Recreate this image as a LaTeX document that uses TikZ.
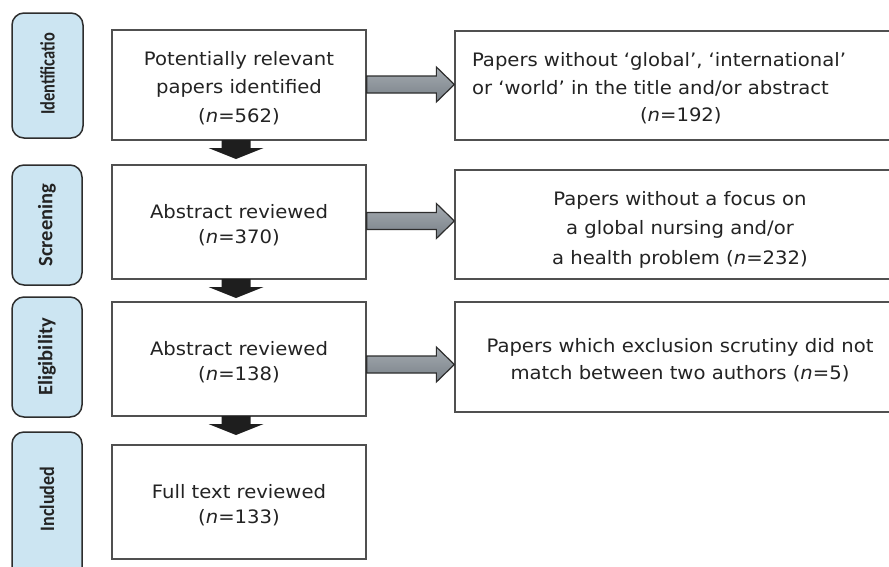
\documentclass[tikz,border=0pt]{standalone}
\usepackage{fontspec}
\setmainfont{DejaVu Sans}
\newfontfamily\mainfnt[FakeStretch=1.06]{DejaVu Sans}
\newfontfamily\pillfnt{Carlito}
\usetikzlibrary{calc}
\definecolor{pillfill}{RGB}{204,229,242}
\definecolor{pilldraw}{RGB}{45,45,45}
\definecolor{boxdraw}{RGB}{80,80,80}
\definecolor{txt}{RGB}{35,35,35}
\definecolor{arrtop}{RGB}{165,171,177}
\definecolor{arrbot}{RGB}{120,128,135}
\definecolor{darr}{RGB}{30,30,30}
\newcommand{\upstrut}[1]{\rule{0pt}{#1}}
\tikzset{
  pill/.style={draw=pilldraw, line width=1.5pt, fill=pillfill, rounded corners=12pt},
  pilltext/.style={rotate=90, text=txt, font=\pillfnt\bfseries\fontsize{20.5}{24}\selectfont, inner sep=0pt},
  box/.style={draw=boxdraw, line width=1.3pt, fill=white, align=center, text=txt, inner sep=0pt},
  ltext/.style={font=\mainfnt\fontsize{18.5}{25}\selectfont},
  rtext/.style={align=left, text=txt, inner sep=0pt},
  rarrow/.style={draw=pilldraw, line width=1.2pt, top color=arrtop, bottom color=arrbot, line join=miter},
  darrow/.style={fill=darr, draw=none}
}
\begin{document}
\begin{tikzpicture}[x=1pt,y=-1pt]
\clip (0,0) rectangle (889,566);
\fill[white] (0,0) rectangle (889,566);
% phase pills
\draw[pill] (12,13) rectangle (83,138);
\node[pilltext] (p1) at (47.5,74) {\scalebox{0.8}[1]{Identificatio}};
\draw[pill] (12,165) rectangle (82,285);
\node[pilltext] (p2) at (47,225) {Screening};
\draw[pill] (12,297) rectangle (82,417);
\node[pilltext] (p3) at (47,357) {Eligibility};
\draw[pill] (12,432) rectangle (82,590);
\node[pilltext] (p4) at (47,499) {\scalebox{0.88}[1]{Included}};
% left boxes
\node[box, font=\mainfnt\fontsize{18.5}{28.5}\selectfont, minimum width=254pt, minimum height=110pt] (b1) at (239,85)
  {\upstrut{20pt}Potentially relevant\\papers identified\\(\textit{n}=562)};
\node[box, ltext, minimum width=254pt, minimum height=114pt] (b2) at (239,222)
  {\upstrut{20pt}Abstract reviewed\\(\textit{n}=370)};
\node[box, ltext, minimum width=254pt, minimum height=114pt] (b3) at (239,359)
  {\upstrut{20pt}Abstract reviewed\\(\textit{n}=138)};
\node[box, ltext, minimum width=254pt, minimum height=114pt] (b4) at (239,502)
  {\upstrut{20pt}Full text reviewed\\(\textit{n}=133)};
% right boxes
\node[box, minimum width=450pt, minimum height=109pt] (r1) at (680,85.5) {};
\node[rtext, font=\mainfnt\fontsize{18.5}{27.5}\selectfont] (r1t) at (659,88.5)
  {Papers without ‘global’, ‘international’\\or ‘world’ in the title and/or abstract\\\hspace*{168pt}(\textit{n}=192)};
\node[box, font=\mainfnt\fontsize{18.5}{29.5}\selectfont, minimum width=450pt, minimum height=109pt] (r2) at (680,224.5)
  {\upstrut{24pt}Papers without a focus on\\a global nursing and/or\\a health problem (\textit{n}=232)};
\node[box, font=\mainfnt\fontsize{18.5}{27}\selectfont, minimum width=450pt, minimum height=110pt] (r3) at (680,357)
  {\upstrut{20pt}Papers which exclusion scrutiny did not\\match between two authors (\textit{n}=5)};
% right arrows
\coordinate (t1) at (r1.west |- 0,84.5);
\draw[rarrow] (t1) -- ++(-18,-17.5) -- ++(0,9) -- (b1.east |- 0,76) -- (b1.east |- 0,93) -- ($(t1)+(-18,8.5)$) -- ++(0,9) -- cycle;
\coordinate (t2) at (r2.west |- 0,221);
\draw[rarrow] (t2) -- ++(-18,-17.5) -- ++(0,9) -- (b2.east |- 0,212.5) -- (b2.east |- 0,229.5) -- ($(t2)+(-18,8.5)$) -- ++(0,9) -- cycle;
\coordinate (t3) at (r3.west |- 0,364.5);
\draw[rarrow] (t3) -- ++(-18,-17.5) -- ++(0,9) -- (b3.east |- 0,356) -- (b3.east |- 0,373) -- ($(t3)+(-18,8.5)$) -- ++(0,9) -- cycle;
% down arrows
\coordinate (d1) at (236,159);
\fill[darrow] (d1) -- ++(-27.5,-11) -- ++(13,0) -- (221.5,140) -- (250.5,140) -- ++(0,8) -- ++(13,0) -- cycle;
\coordinate (d2) at (236,298);
\fill[darrow] (d2) -- ++(-27.5,-11) -- ++(13,0) -- (221.5,279) -- (250.5,279) -- ++(0,8) -- ++(13,0) -- cycle;
\coordinate (d3) at (236,435);
\fill[darrow] (d3) -- ++(-27.5,-11) -- ++(13,0) -- (221.5,416) -- (250.5,416) -- ++(0,8) -- ++(13,0) -- cycle;
\end{tikzpicture}
\end{document}
